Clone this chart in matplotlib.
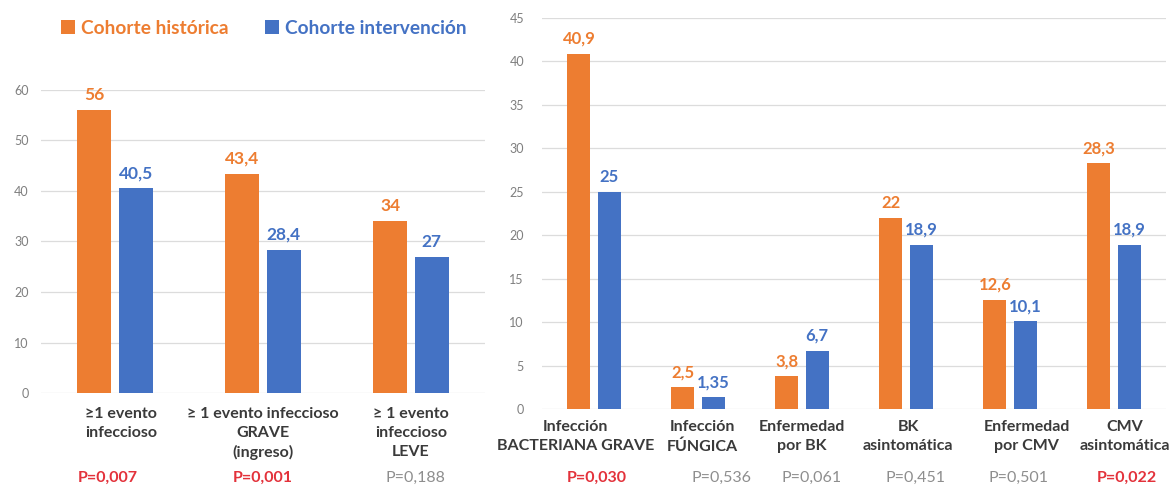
import matplotlib
matplotlib.use("Agg")
import matplotlib.pyplot as plt
import matplotlib.transforms as mtransforms
import numpy as np

plt.rcParams['font.family'] = ['Lato', 'DejaVu Sans']

# ---- data ----
series_names = ["Cohorte histórica", "Cohorte intervención"]

categories_left = ["≥1 evento\ninfeccioso",
                   "≥ 1 evento infeccioso\nGRAVE\n(ingreso)",
                   "≥ 1 evento\ninfeccioso\nLEVE"]
historica_left = [56, 43.4, 34]
intervencion_left = [40.5, 28.4, 27]
pvalues_left = ["P=0,007", "P=0,001", "P=0,188"]
significant_left = [True, True, False]

categories_right = ["Infección\nBACTERIANA GRAVE", "Infección\nFÚNGICA",
                    "Enfermedad\npor BK", "BK\nasintomática",
                    "Enfermedad\npor CMV", "CMV\nasintomática"]
historica_right = [40.9, 2.5, 3.8, 22, 12.6, 28.3]
intervencion_right = [25, 1.35, 6.7, 18.9, 10.1, 18.9]
pvalues_right = ["P=0,030", "P=0,536", "P=0,061", "P=0,451", "P=0,501", "P=0,022"]
significant_right = [True, False, False, False, False, True]

# ---- style ----
ORANGE = "#ED7D31"
BLUE = "#4472C4"
GRID = "#dcdcdc"
TICK = "#7f7f7f"
LABEL = "#3a3a3a"
RED = "#e3323b"
GREY_P = "#8e8e8e"

# small horizontal nudges (in category units) for the text under each panel
cat_nudge_right = [-0.18, 0.04, 0.0, 0.02, 0.16, 0.10]
p_nudge_right = [0.03, 0.23, 0.09, 0.09, 0.08, 0.12]
cat_nudge_left = [0.04, 0.0, 0.0]
p_nudge_left = [-0.05, 0.0, 0.03]


def fmt(v):
    return f"{v:g}".replace(".", ",")


W, H = 1176, 488
fig = plt.figure(figsize=(W / 100, H / 100), dpi=100)
fig.patch.set_facecolor("white")

ax_l = fig.add_axes([41 / W, 1 - 393 / H, 444 / W, 303 / H])
ax_r = fig.add_axes([542 / W, 1 - 409 / H, 624 / W, 391 / H])


def draw_panel(ax, cats, hist, interv, pvals, sig, width, offset, ymax, ystep,
               val_size, cat_size, cat_gap, tick_pad, cat_nudge, p_nudge):
    x = np.arange(len(cats))
    b1 = ax.bar(x - offset, hist, width, color=ORANGE, label=series_names[0], zorder=3)
    b2 = ax.bar(x + offset, interv, width, color=BLUE, label=series_names[1], zorder=3)
    for bars, vals, col in ((b1, hist, ORANGE), (b2, interv, BLUE)):
        for rect, v in zip(bars, vals):
            ax.annotate(fmt(v), (rect.get_x() + rect.get_width() / 2, v),
                        xytext=(0, 5), textcoords="offset points",
                        ha="center", va="bottom", color=col,
                        fontsize=val_size, fontweight="bold")
    ax.set_xlim(-0.5, len(cats) - 0.5)
    ax.set_ylim(0, ymax)
    ax.set_yticks(np.arange(0, ymax + 0.1, ystep))
    ax.set_xticks([])
    ax.tick_params(axis="y", length=0, labelsize=9, labelcolor=TICK, pad=tick_pad)
    ax.grid(axis="y", color=GRID, linewidth=0.9, zorder=0)
    ax.set_axisbelow(True)
    for s in ax.spines.values():
        s.set_visible(False)
    for xi, c, n in zip(x, cats, cat_nudge):
        ax.annotate(c, (xi + n, 0), xycoords=("data", "axes fraction"),
                    xytext=(0, -cat_gap), textcoords="offset points",
                    ha="center", va="top", fontsize=cat_size,
                    fontweight="bold", color=LABEL, linespacing=1.45)
    tr = mtransforms.blended_transform_factory(ax.transData, fig.transFigure)
    for xi, p, s, n in zip(x, pvals, sig, p_nudge):
        ax.text(xi + n, 1 - 478 / H, p, transform=tr, ha="center", va="center",
                fontsize=11.5, color=RED if s else GREY_P,
                fontweight="bold" if s else "normal")
    return b1, b2


b1, b2 = draw_panel(ax_l, categories_left, historica_left, intervencion_left,
                    pvalues_left, significant_left, 0.23, 0.14, 60, 10,
                    12.5, 11.5, 10, 9, cat_nudge_left, p_nudge_left)
draw_panel(ax_r, categories_right, historica_right, intervencion_right,
           pvalues_right, significant_right, 0.22, 0.145, 45, 5,
           12, 11.5, 8, 13, cat_nudge_right, p_nudge_right)

leg = fig.legend(handles=[b1, b2], labels=series_names, loc="center left",
                 bbox_to_anchor=(61 / W, 1 - 28 / H), ncol=2, frameon=False,
                 fontsize=13.8, handlelength=0.75, handleheight=0.75,
                 handletextpad=0.3, columnspacing=1.9, borderpad=0,
                 borderaxespad=0)
for txt, col in zip(leg.get_texts(), (ORANGE, BLUE)):
    txt.set_color(col)
    txt.set_fontweight("bold")

fig.savefig("out.png", dpi=100, facecolor="white")
